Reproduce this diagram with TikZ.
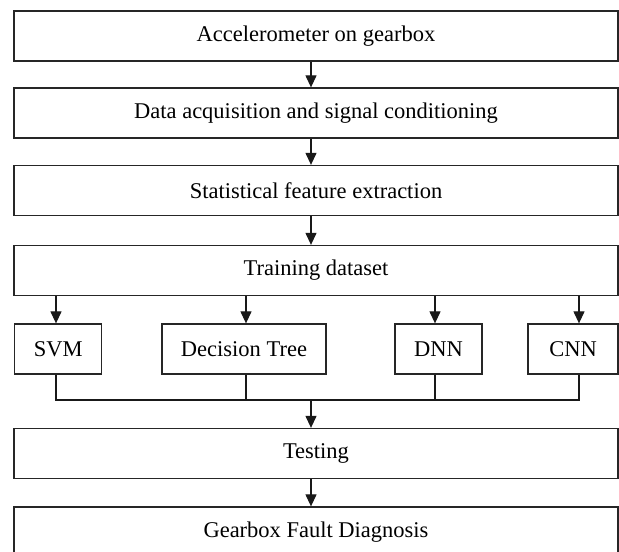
\documentclass[tikz,border=0pt]{standalone}
\usepackage{fontspec}
\setmainfont{Liberation Serif}
\usetikzlibrary{arrows.meta}
\begin{document}
\begin{tikzpicture}[x=1pt,y=-1pt,
  stagebox/.style={draw=black!85,line width=1.3pt,rectangle,inner sep=0pt,
    minimum height=50pt,font=\fontsize{22.5}{27}\selectfont,anchor=center},
  wide/.style={stagebox,minimum width=604pt},
  conn/.style={line width=1.2pt,draw=black!90},
  arr/.style={conn,-{Triangle[length=12pt,width=11pt]}}]
\useasboundingbox (0,0) rectangle (619,552);
\clip (0,0) rectangle (619,552);
\fill[white] (0,0) rectangle (619,552);
\node[wide] (acc) at (316,36) {Accelerometer on gearbox};
\node[wide] (daq) at (316,113) {Data acquisition and signal conditioning};
\node[wide] (feat) at (316,190.5) {Statistical feature extraction};
\node[wide] (train) at (316,270.5) {Training dataset};
\node[stagebox,minimum width=87pt] (svm) at (58.3,349) {SVM};
\node[stagebox,minimum width=164pt] (dt) at (244,349) {Decision Tree};
\node[stagebox,minimum width=87pt] (dnn) at (438.5,349) {DNN};
\node[stagebox,minimum width=90pt] (cnn) at (573,349) {CNN};
\node[wide] (test) at (316,453.5) {Testing};
\node[wide] (diag) at (316,532) {Gearbox Fault Diagnosis};
\coordinate (ax) at (311,0);
\coordinate (join) at (311,400);
\draw[arr] (acc.south -| ax) -- (daq.north -| ax);
\draw[arr] (daq.south -| ax) -- (feat.north -| ax);
\draw[arr] (feat.south -| ax) -- (train.north -| ax);
\foreach \m/\xx in {svm/56,dt/246,dnn/435,cnn/579}{
  \draw[arr] (train.south -| {\xx,0}) -- (\m.north -| {\xx,0});
}
\draw[conn] (svm.south -| {56,0}) -- (56,400) -- (579,400) -- (cnn.south -| {579,0});
\draw[conn] (dt.south -| {246,0}) -- (246,400);
\draw[conn] (dnn.south -| {435,0}) -- (435,400);
\draw[arr] (join) -- (test.north -| ax);
\draw[arr] (test.south -| ax) -- (diag.north -| ax);
\end{tikzpicture}
\end{document}
